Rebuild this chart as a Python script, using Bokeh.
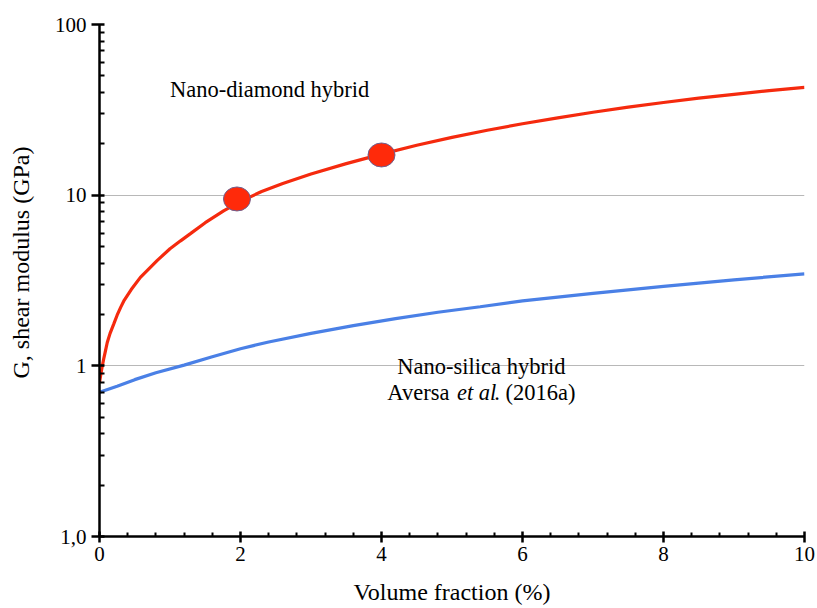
import math
from bokeh.plotting import figure
from bokeh.models import FixedTicker, Range1d
from bokeh.core.properties import value
from bokeh.embed import file_html
from bokeh.resources import INLINE

# ---- data ----
diamond_x = [0, 0.02, 0.04, 0.06, 0.08, 0.11, 0.15, 0.2, 0.25, 0.3, 0.35, 0.45, 0.58,
             0.7, 0.82, 1.0, 1.15, 1.29, 1.5, 1.76, 2.0, 2.3, 2.6, 3.0, 3.5, 4.0,
             4.5, 5.0, 5.5, 6.0, 6.5, 7.0, 7.5, 8.0, 8.5, 9.0, 9.5, 10]
diamond_g = [0.80, 0.90, 1.0, 1.1, 1.2, 1.37, 1.55, 1.75, 1.98, 2.2, 2.42, 2.8, 3.3,
             3.7, 4.15, 4.85, 5.4, 5.95, 6.9, 8.1, 9.2, 10.5, 11.7, 13.3, 15.3, 17.4,
             19.6, 21.8, 24.0, 26.2, 28.4, 30.6, 32.8, 34.9, 37.0, 39.0, 41.0, 42.8]

silica_x = [0, 0.25, 0.5, 0.8, 1.2, 1.6, 2.0, 2.4, 3.0, 3.6, 4.2, 4.8, 5.4, 6.0,
            7.0, 8.0, 9.0, 10]
silica_g = [0.70, 0.76, 0.83, 0.91, 1.01, 1.13, 1.26, 1.38, 1.55, 1.72, 1.89, 2.06,
            2.22, 2.40, 2.66, 2.92, 3.19, 3.46]

points_x = [1.95, 4.0]
points_g = [9.5, 17.2]

x_ticks = [0, 2, 4, 6, 8, 10]
x_minor = [0.4, 0.8, 1.2, 1.6, 2.4, 2.8, 3.2, 3.6, 4.4, 4.8, 5.2, 5.6,
           6.4, 6.8, 7.2, 7.6, 8.4, 8.8, 9.2, 9.6]
y_ticks = [0.1, 1, 10, 100]
y_tick_labels = ["1,0", "1", "10", "100"]
y_minor = [0.2, 0.3, 0.4, 0.5, 0.6, 0.7, 0.8, 0.9,
           2, 3, 4, 5, 6, 7, 8, 9,
           20, 30, 40, 50, 60, 70, 80, 90]

FONT = "Times New Roman"

p = figure(width=817, height=608, y_axis_type="log",
           x_range=Range1d(0, 10), y_range=Range1d(0.1, 100),
           output_backend="svg", toolbar_location=None,
           min_border_left=99, min_border_right=13,
           min_border_top=24, min_border_bottom=72)
p.outline_line_color = None
p.background_fill_color = "white"
p.border_fill_color = "white"

# grids
p.xgrid.grid_line_color = None
p.ygrid.ticker = FixedTicker(ticks=[1, 10, 100])
p.ygrid.grid_line_color = "#b8b8b8"
p.ygrid.grid_line_width = 1.2

# x axis
xa = p.xaxis[0]
xa.ticker = FixedTicker(ticks=x_ticks, minor_ticks=x_minor)
xa.axis_line_width = 2.5
xa.axis_line_color = "black"
xa.major_tick_line_width = 2.5
xa.major_tick_in = 5
xa.major_tick_out = 6
xa.minor_tick_line_width = 2
xa.minor_tick_in = 4
xa.minor_tick_out = 0
xa.major_label_text_font = FONT
xa.major_label_text_font_size = "21px"
xa.major_label_text_color = "black"
xa.major_label_standoff = 4
xa.axis_label = "Volume fraction (%)"
xa.axis_label_text_font = FONT
xa.axis_label_text_font_style = "normal"
xa.axis_label_text_font_size = "24px"
xa.axis_label_text_color = "black"
xa.axis_label_standoff = 15

# y axis
ya = p.yaxis[0]
ya.ticker = FixedTicker(ticks=y_ticks, minor_ticks=y_minor)
ya.major_label_overrides = {t: l for t, l in zip(y_ticks, y_tick_labels)}
ya.axis_line_width = 2.5
ya.axis_line_color = "black"
ya.major_tick_line_width = 2.5
ya.major_tick_in = 5
ya.major_tick_out = 8
ya.minor_tick_line_width = 2
ya.minor_tick_in = 5
ya.minor_tick_out = 0
ya.major_label_text_font = FONT
ya.major_label_text_font_size = "21px"
ya.major_label_text_color = "black"
ya.major_label_standoff = 5
# leading no-break spaces shift the centred label upward, as in the original
ya.axis_label = "\u00a0" * 6 + "G, shear modulus (GPa)"
ya.axis_label_text_font = FONT
ya.axis_label_text_font_style = "normal"
ya.axis_label_text_font_size = "24px"
ya.axis_label_text_color = "black"
ya.axis_label_standoff = 18

# curves
p.line(silica_x, silica_g, line_color="#4a80e6", line_width=3.2)
p.line(diamond_x, diamond_g, line_color="#f52a0e", line_width=3.2)
p.ellipse(points_x, points_g, width=27, height=24, width_units="screen",
          height_units="screen", fill_color="#ff2a0a", line_color="#6d6090",
          line_width=1)

# annotations
ANN = "22.5px"
p.text(x=[1.0], y=[41.8], text=["Nano-diamond hybrid"], text_font=value(FONT),
       text_font_size=ANN, text_color="black", text_align="left",
       text_baseline="alphabetic")
p.text(x=[4.225], y=[0.992], text=["Nano-silica hybrid"], text_font=value(FONT),
       text_font_size=ANN, text_color="black", text_align="left",
       text_baseline="alphabetic")
p.text(x=[4.083], y=[0.701], text=["Aversa"], text_font=value(FONT),
       text_font_size=ANN, text_color="black", text_align="left",
       text_baseline="alphabetic")
p.text(x=[5.07], y=[0.701], text=["et al"], text_font=value(FONT),
       text_font_style="italic",
       text_font_size=ANN, text_color="black", text_align="left",
       text_baseline="alphabetic")
p.text(x=[5.6], y=[0.701], text=[". (2016a)"], text_font=value(FONT),
       text_font_size=ANN, text_color="black", text_align="left",
       text_baseline="alphabetic")

open("out.html", "w").write(file_html(p, INLINE))
